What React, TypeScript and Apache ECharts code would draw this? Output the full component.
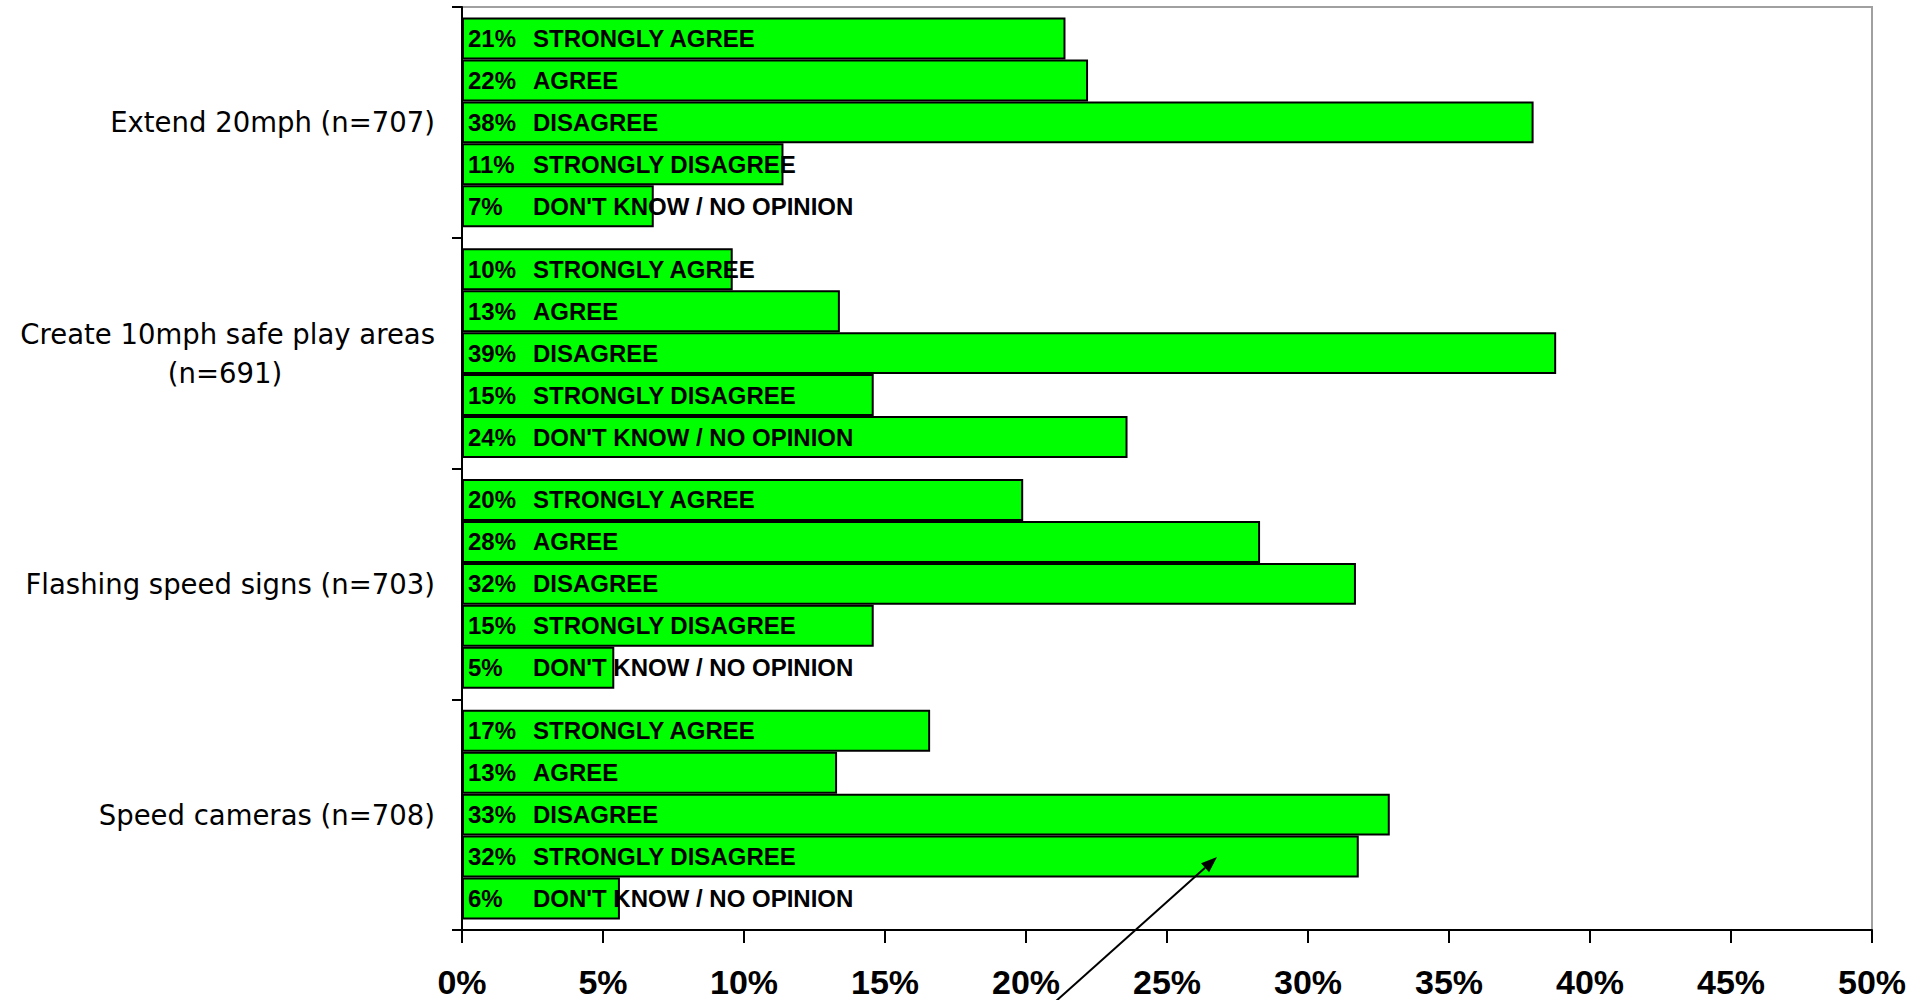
import React, { useEffect, useRef } from "react";
import * as echarts from "echarts";

const categories = [
  "Extend 20mph (n=707)",
  "Create 10mph safe play areas\n(n=691)",
  "Flashing speed signs (n=703)",
  "Speed cameras (n=708)",
];
const responses = [
  "STRONGLY AGREE",
  "AGREE",
  "DISAGREE",
  "STRONGLY DISAGREE",
  "DON'T KNOW / NO OPINION",
];
const stronglyAgree = [21.4, 9.6, 19.9, 16.6];
const agree = [22.2, 13.4, 28.3, 13.3];
const disagree = [38.0, 38.8, 31.7, 32.9];
const stronglyDisagree = [11.4, 14.6, 14.6, 31.8];
const dontKnow = [6.8, 23.6, 5.4, 5.6];
const seriesValues = [stronglyAgree, agree, disagree, stronglyDisagree, dontKnow];
const xTicks = { min: 0, max: 50, interval: 5 };

export default function App() {
  const ref = useRef<HTMLDivElement>(null);
  useEffect(() => {
    if (!ref.current) return;
    const chart = echarts.init(ref.current, null, { renderer: "svg" });
    const tip = [1217, 857];
    const start = [1055, 1002];
    const dx = tip[0] - start[0];
    const dy = tip[1] - start[1];
    const len = Math.sqrt(dx * dx + dy * dy);
    const ux = dx / len, uy = dy / len;
    const px = -uy, py = ux;
    const hl = 16, hw = 6;
    const bx = tip[0] - ux * hl, by = tip[1] - uy * hl;
    chart.setOption({
      animation: false,
      backgroundColor: "#ffffff",
      grid: {
        left: 462,
        right: 54,
        top: 7,
        bottom: 70,
        show: true,
        borderColor: "#a0a0a0",
        borderWidth: 2,
        backgroundColor: "transparent",
      },
      xAxis: {
        type: "value",
        min: xTicks.min,
        max: xTicks.max,
        interval: xTicks.interval,
        splitLine: { show: false },
        axisLine: { show: true, lineStyle: { color: "#000", width: 2 } },
        axisTick: { show: true, length: 13, lineStyle: { color: "#000", width: 2 } },
        axisLabel: {
          formatter: "{value}%",
          fontFamily: "Liberation Sans",
          fontWeight: "bold",
          fontSize: 34,
          color: "#000",
          margin: 35,
        },
      },
      yAxis: {
        type: "category",
        inverse: true,
        data: categories,
        axisLine: { show: true, lineStyle: { color: "#000", width: 2 } },
        axisTick: { show: true, length: 10, lineStyle: { color: "#000", width: 2 } },
        axisLabel: {
          fontFamily: "DejaVu Sans",
          fontSize: 27.5,
          color: "#000",
          margin: 27,
          lineHeight: 39,
          formatter: (v: string) => {
            const parts = v.split("\n");
            if (parts.length === 1) return `{a|${v}}`;
            return `{a|${parts[0]}}\n{b|${parts[1]}}`;
          },
          rich: {
            a: { fontFamily: "DejaVu Sans", fontSize: 27.5, color: "#000", lineHeight: 39 },
            b: {
              fontFamily: "DejaVu Sans",
              fontSize: 27.5,
              color: "#000",
              lineHeight: 39,
              width: 420,
              align: "center",
            },
          },
        },
      },
      series: responses.map((name, i) => ({
        name,
        type: "bar",
        data: seriesValues[i],
        barGap: "0%",
        barCategoryGap: "9%",
        itemStyle: { color: "#00ff00", borderColor: "#000", borderWidth: 2 },
        label: {
          show: true,
          position: "insideLeft",
          distance: 6,
          formatter: (p: any) => `{p|${Math.round(p.value)}%}{n|${p.seriesName}}`,
          rich: {
            p: {
              width: 65,
              fontFamily: "Liberation Sans",
              fontWeight: "bold",
              fontSize: 24,
              color: "#000",
            },
            n: {
              fontFamily: "Liberation Sans",
              fontWeight: "bold",
              fontSize: 24,
              color: "#000",
            },
          },
        },
      })),
      graphic: [
        {
          type: "line",
          shape: { x1: start[0], y1: start[1], x2: bx, y2: by },
          style: { stroke: "#000", lineWidth: 2 },
          z: 100,
        },
        {
          type: "polygon",
          shape: {
            points: [
              [tip[0], tip[1]],
              [bx + px * hw, by + py * hw],
              [bx - px * hw, by - py * hw],
            ],
          },
          style: { fill: "#000" },
          z: 100,
        },
      ],
    });
    return () => chart.dispose();
  }, []);
  return (
    <div
      ref={ref}
      style={{ position: "fixed", left: 0, top: 0, width: 1926, height: 1000 }}
    />
  );
}
